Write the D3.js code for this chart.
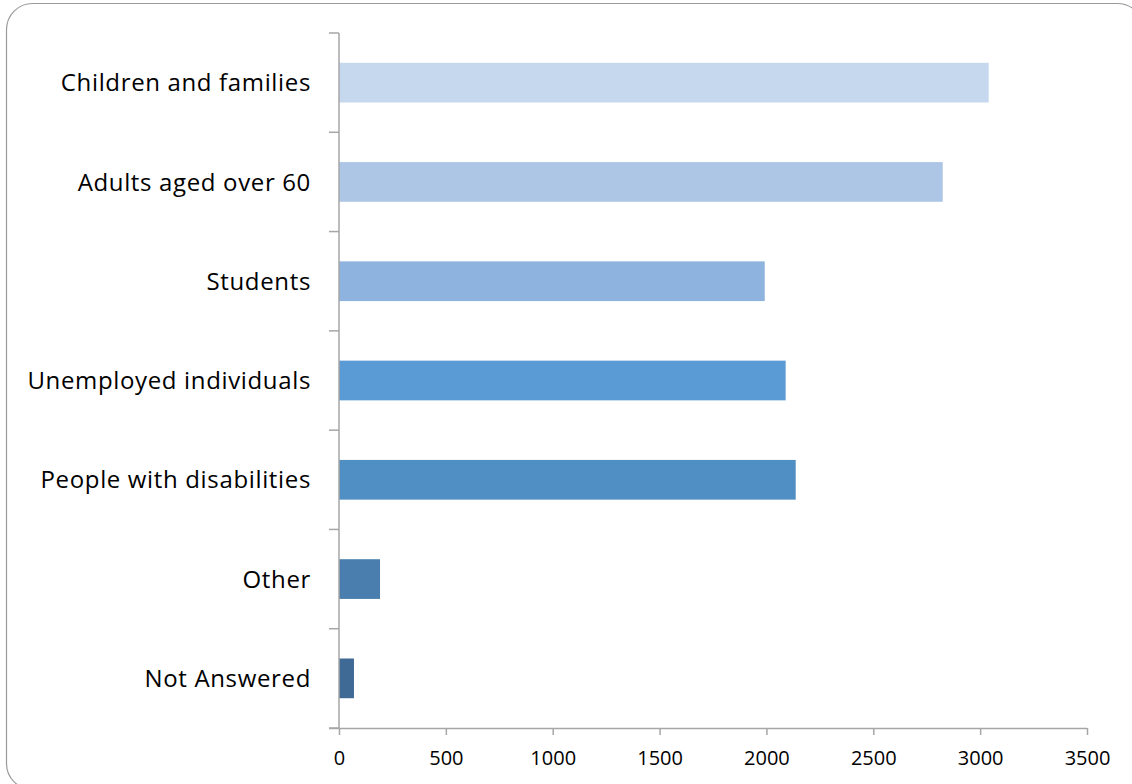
<!DOCTYPE html>
<html>
<head>
<meta charset="utf-8">
<script src="https://cdn.jsdelivr.net/npm/d3@7"></script>
<style>
  html, body { margin: 0; padding: 0; background: #fff; }
  svg { display: block; }
  text { font-family: "Open Sans", Lato, sans-serif; fill: #000; }
</style>
</head>
<body>
<svg id="chart" width="1132" height="784"></svg>
<script>
const categories = ["Children and families", "Adults aged over 60", "Students", "Unemployed individuals", "People with disabilities", "Other", "Not Answered"];
const values = [3040, 2825, 1992, 2090, 2137, 192, 70];
const barColors = ["#C6D8EE", "#ADC6E6", "#8EB3DE", "#5B9BD5", "#508FC3", "#4A7EAE", "#3F6A96"];
const xTicks = [0, 500, 1000, 1500, 2000, 2500, 3000, 3500];

(function () {
const svg = d3.select("#chart");

// outer frame
svg.append("rect")
  .attr("x", 6.5).attr("y", 3.5)
  .attr("width", 1137).attr("height", 786)
  .attr("rx", 26).attr("ry", 26)
  .attr("fill", "none").attr("stroke", "#9a9a9a").attr("stroke-width", 1.2);

const pLeft = 339, pRight = 1087, pTop = 33, pBottom = 728;

const x = d3.scaleLinear().domain([0, 3500]).range([pLeft, pRight]);
const y = d3.scaleBand().domain(categories).range([pTop, pBottom]).paddingInner(0.6).paddingOuter(0.3);

// bars
svg.append("g").selectAll("rect")
  .data(categories)
  .join("rect")
  .attr("x", x(0))
  .attr("y", d => y(d))
  .attr("width", (d, i) => x(values[i]) - x(0))
  .attr("height", y.bandwidth())
  .attr("fill", (d, i) => barColors[i]);

const axisColor = "#a6a6a6";

// y axis line and ticks at band boundaries
const boundaries = d3.range(categories.length + 1).map(i => pTop + i * (pBottom - pTop) / categories.length);
svg.append("line")
  .attr("x1", pLeft).attr("x2", pLeft).attr("y1", pTop).attr("y2", pBottom)
  .attr("stroke", axisColor).attr("stroke-width", 1.5);
svg.append("g").selectAll("line")
  .data(boundaries)
  .join("line")
  .attr("x1", pLeft - 10).attr("x2", pLeft)
  .attr("y1", d => d).attr("y2", d => d)
  .attr("stroke", axisColor).attr("stroke-width", 1.5);

// category labels
svg.append("g").selectAll("text")
  .data(categories)
  .join("text")
  .attr("x", 311)
  .attr("y", d => y(d) + y.bandwidth() / 2)
  .attr("dy", "0.36em")
  .attr("text-anchor", "end")
  .attr("font-size", 24)
  .attr("letter-spacing", 0.65)
  .text(d => d);

// x axis
const xAxis = d3.axisBottom(x).tickValues(xTicks).tickSize(7).tickPadding(16).tickFormat(d3.format("d"));
const gx = svg.append("g").attr("transform", `translate(0,${pBottom})`).call(xAxis);
gx.select(".domain").attr("d", `M${pLeft - 10},0.5H${pRight}`).attr("stroke", axisColor).attr("stroke-width", 1.5);
gx.selectAll(".tick line").attr("stroke", axisColor).attr("stroke-width", 1.5);
gx.selectAll(".tick text").attr("font-size", 20).attr("font-family", "'Open Sans', Lato, sans-serif").attr("fill", "#000");
})();
</script>
</body>
</html>
